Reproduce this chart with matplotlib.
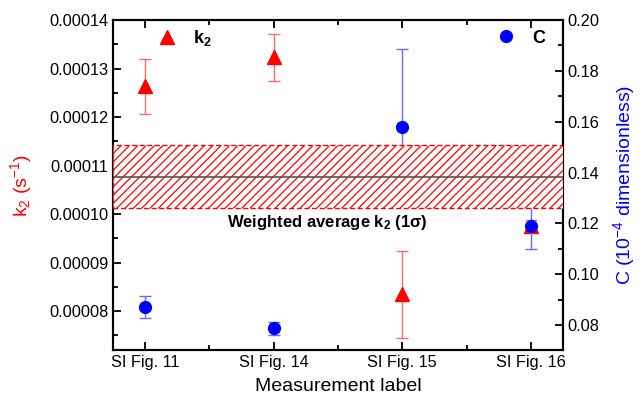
import matplotlib
matplotlib.use("Agg")
import matplotlib.pyplot as plt
from matplotlib.lines import Line2D
from matplotlib.patches import Rectangle
from matplotlib.transforms import blended_transform_factory
from matplotlib.ticker import MultipleLocator

plt.rcParams["font.family"] = ["Liberation Sans", "DejaVu Sans"]
plt.rcParams["mathtext.fontset"] = "custom"
plt.rcParams["mathtext.rm"] = "Liberation Sans"
plt.rcParams["mathtext.it"] = "Liberation Sans:italic"
plt.rcParams["mathtext.bf"] = "Liberation Sans:bold"
plt.rcParams["hatch.linewidth"] = 0.9

# Measurements
labels = ["SI Fig. 11", "SI Fig. 14", "SI Fig. 15", "SI Fig. 16"]
k2_values = [0.0001263, 0.0001323, 0.0000835, 0.0000975]
k2_errors = [0.0000056, 0.0000049, 0.0000090, 0.0000012]
c_values = [0.0871, 0.0787, 0.158, 0.1188]
c_errors = [0.0045, 0.0025, 0.0306, 0.0090]

# Weighted average of k2 and its 1-sigma uncertainty
k2_mean = 0.0001077
k2_sigma = 0.0000065

x = list(range(len(labels)))

fig = plt.figure(figsize=(6.44, 4.05), dpi=100)
ax = fig.add_axes([0.1755, 0.1358, 0.6987, 0.8148])
ax2 = ax.twinx()

ax.errorbar(x, k2_values, yerr=k2_errors, fmt="^", color="red", ms=9.5,
            ecolor="#ff6a6a", elinewidth=1.0, capsize=4, capthick=1.0,
            zorder=3)
ax2.errorbar(x, c_values, yerr=c_errors, fmt="o", color="blue", ms=8.5,
             ecolor="#6a6aff", elinewidth=1.0, capsize=4, capthick=1.0,
             zorder=3)

# Weighted-average band, drawn over both data sets
band_tf = blended_transform_factory(ax2.transAxes, ax.transData)
band = Rectangle((0, k2_mean - k2_sigma), 1, 2 * k2_sigma, transform=band_tf,
                 facecolor="white", edgecolor="red", hatch="////",
                 linestyle=(0, (3.5, 2)), linewidth=1.0, zorder=5)
ax2.add_patch(band)
ax2.add_line(Line2D([0, 1], [k2_mean, k2_mean], transform=band_tf,
                    color="#555555", linewidth=1.2, zorder=6))
ax2.text(0.477, k2_mean - k2_sigma - 0.0000010,
         r"Weighted average k$_\mathbf{2}$ (1σ)", transform=band_tf,
         ha="center", va="top", fontsize=12, fontweight="bold", zorder=7)

ax.set_xlim(-0.25, 3.25)
ax.set_xticks(x)
ax.set_xticklabels(labels)
ax.xaxis.set_minor_locator(MultipleLocator(0.5))
ax.set_ylim(0.0000720, 0.00014)
ax.yaxis.set_major_locator(MultipleLocator(0.00001))
ax.yaxis.set_minor_locator(MultipleLocator(0.000005))
ax.yaxis.set_major_formatter(plt.FuncFormatter(lambda v, p: f"{v:.5f}"))
ax2.set_ylim(0.0702, 0.20)
ax2.yaxis.set_major_locator(MultipleLocator(0.02))
ax2.yaxis.set_minor_locator(MultipleLocator(0.01))
ax2.yaxis.set_major_formatter(plt.FuncFormatter(lambda v, p: f"{v:.2f}"))

for a in (ax, ax2):
    for s in a.spines.values():
        s.set_linewidth(1.5)
ax.tick_params(axis="both", which="both", direction="in", top=True,
               labelsize=11.8, width=1.3)
ax.tick_params(which="major", length=6)
ax.tick_params(which="minor", length=3.5)
ax.tick_params(axis="y", right=False)
ax2.tick_params(axis="y", which="both", direction="in", labelsize=11.8,
                width=1.3)
ax2.tick_params(which="major", length=6)
ax2.tick_params(which="minor", length=3.5)

ax.set_xlabel("Measurement label", fontsize=14, labelpad=6)
ax.set_ylabel(r"k$_2$ (s$^{\mathrm{-}1}$)", fontsize=14, color="red",
              labelpad=11)
ax2.set_ylabel(r"C (10$^{-4}$ dimensionless)", fontsize=14, color="blue",
               labelpad=8)

ax.legend(handles=[Line2D([], [], marker="^", color="red", ls="none",
                          ms=9.5)],
          labels=[r"k$_\mathbf{2}$"], loc="center left",
          bbox_to_anchor=(0.10, 0.945), frameon=False, borderpad=0,
          borderaxespad=0, handlelength=1.0, handletextpad=0.95,
          prop={"size": 13, "weight": "bold"})
ax2.legend(handles=[Line2D([], [], marker="o", color="blue", ls="none",
                           ms=8.5)],
           labels=["C"], loc="center left", bbox_to_anchor=(0.853, 0.945),
           frameon=False, borderpad=0, borderaxespad=0, handlelength=1.0,
           handletextpad=0.95, prop={"size": 13, "weight": "bold"})

fig.savefig("out.png", dpi=100)
